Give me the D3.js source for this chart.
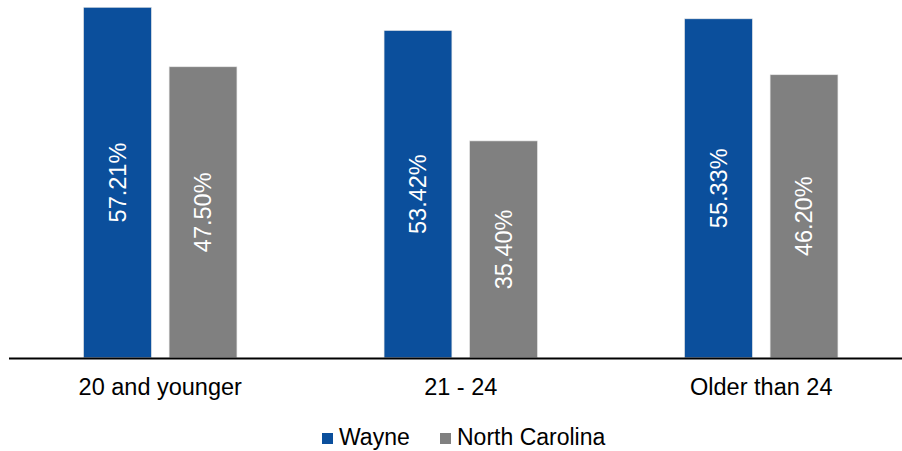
<!DOCTYPE html>
<html>
<head>
<meta charset="utf-8">
<script src="https://cdn.jsdelivr.net/npm/d3@7"></script>
<style>
  html, body { margin: 0; padding: 0; background: #fff; }
  svg { display: block; font-family: "Liberation Sans", Arial, sans-serif; }
</style>
</head>
<body>
<svg id="chart" width="902" height="451"></svg>
<script>
const categories = ["20 and younger", "21 - 24", "Older than 24"];
const seriesNames = ["Wayne", "North Carolina"];
const wayneValues = [57.21, 53.42, 55.33];
const ncValues = [47.50, 35.40, 46.20];
const seriesColors = ["#0B4F9C", "#808080"];

const svg = d3.select("#chart");
const width = 902, height = 451;

const x0 = d3.scaleBand().domain(categories).range([10, 911.5])
  .paddingInner(0.4896).paddingOuter(0.2448);
const x1 = d3.scaleBand().domain(seriesNames).range([0, x0.bandwidth()])
  .paddingInner(0.207);
const y = d3.scaleLinear().domain([0, 60]).range([357.8, -9.8]);
const color = d3.scaleOrdinal().domain(seriesNames).range(seriesColors);

const data = categories.map((c, i) => ({
  category: c,
  values: [
    { series: "Wayne", value: wayneValues[i] },
    { series: "North Carolina", value: ncValues[i] }
  ]
}));

const groups = svg.append("g").selectAll("g")
  .data(data).join("g")
  .attr("transform", d => `translate(${x0(d.category)},0)`);

groups.selectAll("rect")
  .data(d => d.values).join("rect")
  .attr("x", d => x1(d.series))
  .attr("y", d => y(d.value))
  .attr("width", x1.bandwidth())
  .attr("height", d => y(0) - y(d.value))
  .attr("fill", d => color(d.series))
  .attr("stroke", "#e6e6e6")
  .attr("stroke-width", 0.6);

groups.selectAll("text")
  .data(d => d.values).join("text")
  .attr("transform", d => {
    const cx = x1(d.series) + x1.bandwidth() / 2;
    const cy = (y(d.value) + y(0)) / 2;
    return `translate(${cx},${cy}) rotate(-90)`;
  })
  .attr("text-anchor", "middle")
  .attr("dy", "0.35em")
  .attr("fill", "#fff")
  .attr("font-size", 23.5)
  .text(d => d.value.toFixed(2) + "%");

// Category axis
const xAxis = d3.axisBottom(x0).tickSize(0).tickPadding(0);
const axisG = svg.append("g")
  .attr("transform", `translate(0,${y(0)})`)
  .call(xAxis);
axisG.select(".domain").remove();
axisG.selectAll("text")
  .attr("font-size", 23.5)
  .attr("fill", "#000")
  .attr("font-family", "Liberation Sans, Arial, sans-serif")
  .attr("dy", null)
  .attr("y", 37);

svg.append("line")
  .attr("x1", 9).attr("x2", width)
  .attr("y1", 358.5).attr("y2", 358.5)
  .attr("stroke", "#000")
  .attr("stroke-width", 2);

// Legend
const legendItems = [
  { name: "Wayne", sx: 322, tx: 339 },
  { name: "North Carolina", sx: 440, tx: 457 }
];
const legend = svg.append("g");
legendItems.forEach(it => {
  legend.append("rect")
    .attr("x", it.sx).attr("y", 433)
    .attr("width", 11).attr("height", 11)
    .attr("fill", color(it.name));
  legend.append("text")
    .attr("x", it.tx).attr("y", 445)
    .attr("font-size", 23)
    .attr("fill", "#000")
    .text(it.name);
});
</script>
</body>
</html>
